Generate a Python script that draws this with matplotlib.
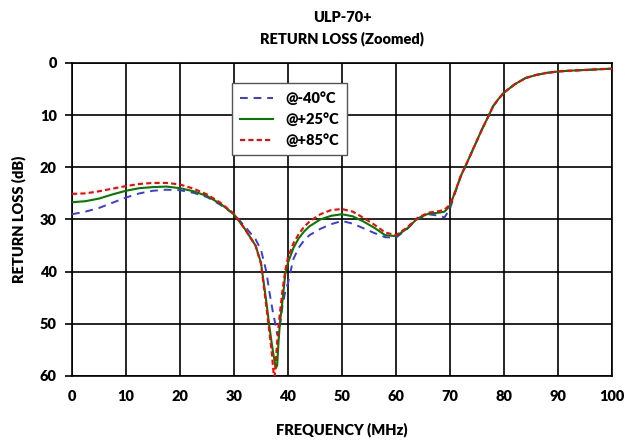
import numpy as np
import matplotlib
matplotlib.use("Agg")
import matplotlib.pyplot as plt

# frequency points (MHz) shared by the three traces
freq = [0, 2.5, 5, 7.5, 10, 12.5, 15, 17.5, 20, 22.5, 25, 27.5, 30, 32, 34, 35,
        36, 36.5, 37, 37.25, 37.5, 37.75, 38, 38.25, 38.5, 39, 39.5, 40, 41, 42,
        43, 44, 46, 48, 50, 52, 54, 56, 58, 60, 62, 64, 66, 68, 69, 70, 71, 72,
        73, 74, 75, 76, 77, 78, 79, 80, 82, 84, 86, 88, 90, 92, 94, 96, 98, 100]

rl_m40 = [29.0, 28.5, 27.8, 26.8, 25.8, 25.0, 24.5, 24.3, 24.4, 24.9, 25.7, 27.2,
          29.0, 31.3, 33.8, 35.8, 40.0, 43.5, 46.5, 48.0, 49.2, 50.5, 52.0, 52.2,
          50.5, 46.5, 43.8, 42.2, 37.6, 35.4, 34.0, 33.0, 31.8, 30.9, 30.3, 30.8,
          31.7, 32.6, 33.4, 33.5, 31.9, 29.9, 29.0, 29.3, 29.6, 28.0, 24.8, 21.8,
          19.5, 17.2, 14.9, 12.6, 10.5, 8.3, 6.9, 5.7, 4.1, 2.9, 2.3, 1.9, 1.65,
          1.5, 1.4, 1.3, 1.2, 1.1]

rl_p25 = [26.7, 26.5, 26.0, 25.2, 24.5, 24.0, 23.8, 23.7, 24.0, 24.6, 25.5, 27.0,
          29.0, 31.8, 35.0, 38.3, 45.8, 50.0, 53.8, 55.5, 57.0, 58.5, 58.0, 53.5,
          50.0, 45.5, 40.5, 38.3, 35.5, 33.6, 32.3, 31.3, 30.0, 29.3, 29.0, 29.4,
          30.4, 31.6, 33.0, 33.2, 31.8, 29.8, 28.9, 28.7, 28.5, 27.4, 24.6, 21.7,
          19.5, 17.2, 14.9, 12.6, 10.5, 8.3, 6.9, 5.7, 4.1, 2.9, 2.3, 1.9, 1.65,
          1.5, 1.4, 1.3, 1.2, 1.1]

rl_p85 = [25.1, 25.0, 24.6, 24.1, 23.6, 23.2, 23.0, 23.0, 23.3, 24.1, 25.2, 26.8,
          28.9, 31.8, 35.0, 38.5, 46.7, 51.0, 55.5, 58.5, 61.0, 57.0, 53.5, 50.5,
          48.0, 43.5, 39.8, 37.3, 34.6, 32.8, 31.4, 30.4, 29.0, 28.2, 28.0, 28.5,
          29.7, 31.0, 32.5, 33.0, 31.6, 29.7, 28.7, 28.4, 28.1, 27.2, 24.6, 21.7,
          19.5, 17.2, 14.9, 12.6, 10.5, 8.3, 6.9, 5.7, 4.1, 2.9, 2.3, 1.9, 1.65,
          1.5, 1.4, 1.3, 1.2, 1.1]

labels = ["@-40°C", "@+25°C", "@+85°C"]
x_ticks = [0, 10, 20, 30, 40, 50, 60, 70, 80, 90, 100]
y_ticks = [0, 10, 20, 30, 40, 50, 60]

plt.rcParams['font.family'] = ['Lato', 'DejaVu Sans']
plt.rcParams['font.weight'] = 'heavy'
W = 'heavy'

fig = plt.figure(figsize=(6.25, 4.4), dpi=100)
ax = fig.add_axes([0.1152, 0.1455, 0.8638, 0.7115])

ax.plot(freq, rl_m40, color='#3a3ae0', lw=1.4, dashes=(4, 3), label=labels[0], zorder=3)
ax.plot(freq, rl_p25, color='#007a00', lw=1.5, label=labels[1], zorder=4)
ax.plot(freq, rl_p85, color='#ff0000', lw=1.5, dashes=(2.5, 1.5), label=labels[2], zorder=5)

ax.set_xlim(0, 100)
ax.set_ylim(60, 0)
ax.set_xticks(x_ticks)
ax.set_yticks(y_ticks)
ax.grid(True, color='black', lw=1.2)
ax.set_axisbelow(True)
for s in ax.spines.values():
    s.set_color('black')
    s.set_linewidth(1.2)
ax.tick_params(axis='x', length=0, pad=10, labelsize=10.5)
ax.tick_params(axis='y', length=5, width=1.2, direction='out', pad=6, labelsize=10.5)
for t in ax.get_xticklabels() + ax.get_yticklabels():
    t.set_fontweight(W)

ax.set_xlabel("FREQUENCY (MHz)", fontsize=10.5, fontweight=W, labelpad=14)
ax.set_ylabel("RETURN LOSS (dB)", fontsize=10.5, fontweight=W, labelpad=10)
ax.set_title("ULP-70+\nRETURN LOSS (Zoomed)", fontsize=10.5, fontweight=W,
             pad=14, linespacing=1.6)

leg = ax.legend(loc='upper left', bbox_to_anchor=(0.296, 0.936), fontsize=10.5,
                frameon=True, fancybox=False, edgecolor='#555555',
                handlelength=2.3, labelspacing=0.5, borderpad=0.55,
                borderaxespad=0, prop={'weight': W, 'size': 10.5})
leg.get_frame().set_linewidth(1.0)
leg.get_frame().set_alpha(1)

fig.savefig("out.png", dpi=100)
